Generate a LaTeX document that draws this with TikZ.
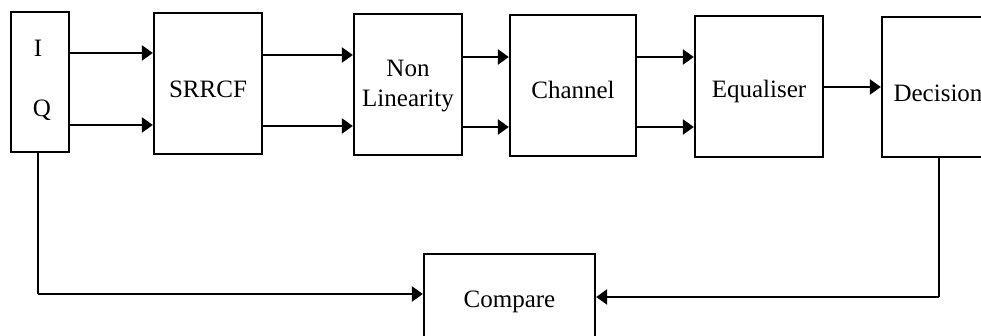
\documentclass[tikz,border=0pt]{standalone}
\usepackage{fontspec}
\setmainfont{Liberation Serif}
\usetikzlibrary{arrows.meta}
\begin{document}
\begin{tikzpicture}[x=1pt,y=-1pt,
  blk/.style={draw,line width=2.3pt,minimum width=#1,inner sep=0pt},
  txt/.style={font=\fontsize{25}{30}\selectfont,align=center,inner sep=0pt},
  arr/.style={line width=2.5pt,-{Triangle[length=11pt,width=15pt]}},
  wire/.style={line width=2.5pt}]
\useasboundingbox (0,0) rectangle (981,336);
\clip (0,0) rectangle (981,336);

% processing chain
\node[blk=58pt,minimum height=140pt] (iq) at (40,82) {};
\node[txt] (iqI) at (38,48) {I};
\node[txt] (iqQ) at (42,110) {Q};
\node[blk=108pt,minimum height=141pt,label={[txt,yshift=-6pt]center:SRRCF}] (srrcf) at (208,83.5) {};
\node[blk=108pt,minimum height=141pt,label={[txt,yshift=-2pt]center:Non\\Linearity}] (nl) at (408,84.5) {};
\node[blk=126pt,minimum height=141pt,label={[txt,yshift=-4pt]center:Channel}] (chan) at (573,85.5) {};
\node[blk=128pt,minimum height=141pt,label={[txt,yshift=-5pt]center:Equaliser}] (eq) at (759,86.5) {};
\node[blk=112pt,minimum height=140pt,label={[txt,yshift=-6pt]center:Decision}] (dec) at (938,87) {};
\node[blk=171pt,minimum height=96pt,label={[txt]center:Compare}] (cmp) at (509.5,302) {};

% I and Q paths
\draw[arr] (iq.east |- 0,53) -- (srrcf.west |- 0,53);
\draw[arr] (iq.east |- 0,125) -- (srrcf.west |- 0,125);
\draw[arr] (srrcf.east |- 0,55) -- (nl.west |- 0,55);
\draw[arr] (srrcf.east |- 0,126) -- (nl.west |- 0,126);
\draw[arr] (nl.east |- 0,57) -- (chan.west |- 0,57);
\draw[arr] (nl.east |- 0,127) -- (chan.west |- 0,127);
\draw[arr] (chan.east |- 0,57) -- (eq.west |- 0,57);
\draw[arr] (chan.east |- 0,127) -- (eq.west |- 0,127);
\draw[arr] (eq.east |- 0,87) -- (dec.west |- 0,87);

% feedback to comparison
\coordinate (iqdown) at (38,294);
\coordinate (decdown) at (939,297);
\draw[wire] (iq.south -| iqdown) -- (iqdown);
\draw[arr] (iqdown) -- (cmp.west |- iqdown);
\draw[wire] (dec.south -| decdown) -- (decdown);
\draw[arr] (decdown) -- (cmp.east |- decdown);
\end{tikzpicture}
\end{document}
